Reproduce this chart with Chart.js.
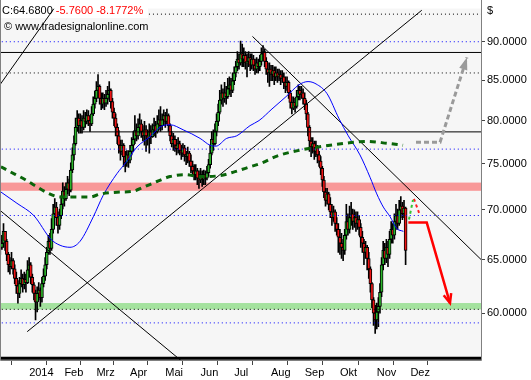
<!DOCTYPE html>
<html>
<head>
<meta charset="utf-8">
<script src="https://cdn.jsdelivr.net/npm/chart.js@4.4.1/dist/chart.umd.min.js"></script>
<style>
  html, body { margin: 0; padding: 0; background: #fff; }
</style>
</head>
<body>
<canvas id="chart" width="531" height="380"></canvas>
<script>
// Daily sessions, one entry per weekday: [high, low, close]; open = previous close
const firstOpen = 66.9;
const dec13 = [[67.0,65.5,66.2],[67.4,66.0,66.6],[68.6,66.2,67.8],[67.6,65.9,66.8],[67.0,64.9,65.5],[65.7,63.8,64.5],[65.2,63.6,64.3],[65.7,64.1,64.9],[65.1,63.6,64.1],[64.5,62.7,63.2],[63.8,61.8,62.5],[63.0,60.9,61.8],[63.3,61.4,62.7],[64.0,62.4,63.2],[63.6,61.9,62.6],[63.8,62.2,63.1],[63.6,61.9,62.8],[64.9,62.7,64.0]];
const jan = [[65.2,63.3,64.5],[64.7,62.7,63.3],[63.6,61.9,62.6],[62.8,61.2,61.8],[62.1,59.4,61.0],[62.4,60.1,61.8],[62.8,61.2,62.1],[62.3,60.6,61.4],[63.3,61.0,62.7],[64.1,62.4,63.4],[65.2,63.0,64.5],[66.2,64.1,65.7],[67.4,65.5,66.8],[67.6,65.5,66.1],[69.1,65.9,68.0],[70.6,67.6,69.6],[71.2,69.4,70.3],[70.8,68.4,69.2],[69.8,67.6,68.4],[70.1,68.0,69.4],[71.5,69.1,70.6],[72.9,70.1,72.0],[72.5,70.4,71.2]];
const feb = [[72.9,71.0,72.2],[73.6,71.7,72.9],[73.3,71.5,72.1],[75.1,71.9,74.3],[76.8,74.0,76.0],[78.2,75.4,77.3],[80.3,77.1,79.2],[81.2,78.7,80.3],[80.8,78.5,79.4],[80.8,78.5,80.0],[80.6,78.5,79.2],[81.2,78.9,80.3],[81.0,79.2,79.9],[81.3,79.6,80.6],[81.2,79.4,80.0],[80.6,78.7,79.6],[81.7,79.4,80.8],[82.9,80.6,82.0],[83.6,81.5,82.7],[84.8,82.3,83.7]];
const mar = [[85.7,82.9,84.2],[84.4,82.0,82.7],[83.4,81.3,82.0],[83.4,81.5,82.7],[83.2,81.3,82.1],[83.7,81.7,82.7],[84.2,82.0,83.2],[84.8,82.5,83.7],[83.9,81.5,82.3],[82.7,80.3,81.0],[81.5,79.4,80.3],[80.8,78.2,79.2],[79.6,77.3,78.2],[78.8,76.2,77.1],[77.7,75.4,76.4],[77.7,76.0,77.1],[77.3,74.7,75.8],[76.4,74.1,75.1],[76.5,74.7,76.0],[76.5,74.6,75.4],[77.1,75.1,76.4]];
const apr = [[78.0,76.0,77.1],[78.7,76.4,77.8],[80.6,77.3,78.8],[79.6,77.6,78.2],[80.2,77.8,79.2],[80.8,78.5,79.6],[80.1,78.0,78.7],[79.4,77.6,78.2],[79.9,77.1,78.9],[79.4,76.4,78.2],[78.9,77.1,77.9],[79.6,76.2,78.7],[79.4,77.3,78.1],[79.6,78.0,78.9],[80.3,78.2,79.4],[79.9,78.0,78.7],[80.6,78.5,79.6],[81.3,78.9,80.1],[81.7,78.7,79.4],[80.8,78.9,80.1],[81.3,79.4,80.6],[81.0,79.2,79.9]];
const may = [[81.4,79.6,80.6],[80.8,78.7,79.4],[79.6,77.6,78.2],[78.7,76.9,77.3],[78.5,76.5,77.8],[78.2,76.4,77.1],[77.8,76.0,76.7],[78.0,76.2,77.3],[77.6,76.0,76.5],[77.1,75.5,76.2],[77.3,75.8,76.8],[77.1,75.3,76.0],[76.4,74.9,75.8],[76.9,75.1,76.2],[76.4,74.7,75.3],[76.0,74.0,74.7],[75.3,73.6,74.2],[74.9,73.2,73.8],[74.9,73.2,74.2],[74.5,72.7,73.4],[74.2,72.3,73.2],[74.5,72.9,73.8]];
const jun = [[74.2,72.5,73.3],[74.3,72.7,73.8],[74.2,72.7,73.4],[74.7,73.2,74.0],[75.5,73.6,74.9],[77.1,74.5,76.2],[78.7,76.0,77.8],[78.9,76.5,77.3],[79.6,77.1,78.7],[80.8,78.2,79.9],[82.0,79.4,81.0],[83.7,80.8,82.5],[84.4,82.0,83.4],[83.9,81.7,82.7],[84.7,82.2,83.4],[84.2,82.0,82.9],[85.2,82.7,83.9],[85.4,83.2,84.4],[85.2,82.9,83.7],[85.9,83.4,84.9],[86.7,84.4,85.9]];
const jul = [[87.4,85.4,86.7],[88.7,86.2,87.7],[88.4,86.4,87.2],[90.1,86.9,88.4],[89.7,86.7,87.7],[89.2,86.7,88.2],[88.7,86.4,87.2],[88.4,85.4,87.4],[88.7,86.7,87.9],[88.4,86.2,86.9],[88.4,86.4,87.7],[88.2,86.2,86.9],[87.7,85.7,86.4],[87.9,85.9,87.2],[87.7,85.9,86.7],[88.2,86.2,87.4],[89.2,86.9,88.4],[89.5,87.7,88.7],[89.0,86.7,87.4],[87.9,85.7,86.4],[87.2,84.7,85.9],[87.2,84.2,86.4],[86.9,84.9,85.7]];
const aug = [[86.9,84.9,86.2],[86.7,84.4,85.4],[86.7,84.9,85.9],[86.4,84.7,85.4],[86.4,84.9,85.7],[86.2,84.4,85.2],[86.2,84.7,85.4],[85.9,83.9,84.7],[85.4,83.4,84.2],[85.4,83.7,84.7],[84.9,82.7,83.4],[83.7,81.5,82.2],[82.9,80.8,81.5],[82.9,81.3,82.2],[82.7,81.0,81.7],[83.7,81.5,82.9],[84.4,82.5,83.7],[84.2,82.5,83.2],[84.2,82.7,83.4],[83.9,82.0,82.7],[83.4,81.3,82.0]];
const sep = [[82.5,80.1,80.8],[81.0,78.2,79.2],[79.4,76.4,77.6],[78.0,75.8,76.9],[78.0,76.2,77.3],[77.6,75.5,76.4],[77.6,75.8,76.9],[77.1,75.1,76.0],[76.4,74.7,75.3],[75.8,73.8,74.5],[74.7,72.5,73.2],[73.6,71.3,71.9],[72.3,70.4,71.0],[72.3,70.6,71.7],[71.9,70.0,70.6],[71.3,69.2,69.8],[70.6,68.4,69.2],[70.4,68.8,69.8],[70.0,67.8,68.6],[69.2,67.4,68.0],[68.6,65.7,67.2],[68.0,65.5,66.6]];
const oct = [[67.6,65.1,66.2],[67.0,64.9,65.9],[68.0,65.5,67.4],[70.6,67.0,68.8],[69.6,67.4,68.0],[70.4,67.6,69.2],[70.8,68.4,69.6],[70.1,68.0,68.8],[70.0,68.2,69.2],[69.8,67.8,68.6],[69.8,68.0,69.0],[69.4,67.4,68.2],[68.6,66.2,67.2],[67.8,65.7,66.6],[67.0,64.5,65.7],[66.8,65.1,66.2],[66.4,64.0,65.1],[65.7,63.2,64.1],[64.3,61.9,62.7],[62.8,60.5,61.2],[61.4,58.9,60.0],[60.7,58.2,59.4],[60.9,58.6,60.1]];
const nov = [[61.4,58.8,60.6],[62.7,60.0,61.9],[65.2,61.5,64.5],[66.8,64.0,65.9],[66.6,64.5,65.1],[67.0,64.7,66.2],[66.8,64.3,65.5],[67.8,65.1,67.0],[68.8,66.6,68.0],[68.6,66.6,67.4],[69.6,67.0,68.8],[70.6,68.0,69.4],[70.1,68.0,68.6],[71.0,68.4,70.0],[71.4,69.2,70.4],[70.8,69.0,69.6],[71.0,69.2,70.2],[70.3,64.5,65.9]];

// x axis: session index of the first bar of each month
const monthTicks = [18, 40, 60, 81, 103, 125, 146, 169, 190, 212, 235, 256];
const monthLabels = ['2014', 'Feb', 'Mrz', 'Apr', 'Mai', 'Jun', 'Jul', 'Aug', 'Sep', 'Okt', 'Nov', 'Dez'];
const priceTicks = [60, 65, 70, 75, 80, 85, 90];

// indicators [session, price]
const smaLine = [[0.4,71.9],[10.4,70.7],[21.0,69.4],[31.6,67.0],[37.3,66.4],[43.5,66.2],[49.8,66.8],[58.1,69.3],[64.1,71.5],[72.8,73.9],[79.1,75.3],[85.3,76.9],[93.5,78.1],[100.3,79.3],[106.0,79.5],[114.2,78.9],[124.7,77.9],[131.0,77.1],[134.6,77.0],[141.3,77.9],[147.6,78.2],[155.9,79.4],[161.5,80.0],[169.6,81.4],[178.3,82.9],[186.5,84.4],[192.1,84.8],[197.1,84.5],[203.9,83.3],[211.5,80.2],[217.2,78.2],[224.5,76.0],[230.8,73.5],[235.0,71.7],[239.1,70.3],[243.3,69.3],[247.4,68.1],[251.6,67.8]];
const longAvg = [[0.4,74.66],[6.1,74.12],[15.4,73.25],[20.4,72.72],[29.8,71.78],[37.3,71.36],[45.4,71.36],[56.0,71.36],[62.2,71.67],[72.8,71.88],[82.8,71.98],[89.1,72.4],[97.8,73.04],[105.9,73.58],[115.3,73.79],[124.7,73.58],[137.1,73.68],[146.5,74.12],[155.9,74.66],[163.4,75.1],[172.7,75.87],[187.1,76.54],[201.4,76.99],[210.2,77.21],[228.9,77.55],[241.4,77.33],[251.4,77.1]];

// drawn analysis: horizontal levels and trend lines
const blueLevels = [90.0, 76.66, 69.42, 59.13];
const blackDotLevels = [85.9, 60.34];
const topDotLevel = 93.79, topDotFrom = 92.8;
const blackLevel = 88.57;
const midLevel = 78.66, midLevelFrom = 50.7;
const floorLevel = 56.08;
const resistanceBand = [72.03, 72.92];
const supportBand = [60.33, 60.91];
const trendLines = [
  [[-0.2, 84.4], [33.5, 94.57]],
  [[16.8, 58.36], [263.1, 94.34]],
  [[-0.2, 69.96], [113.4, 55.83]],
  [[157.4, 90.72], [300.1, 65.0]]
];
const bearPath = [[254.7, 68.69], [266.2, 68.69], [280.7, 60.91]];
const bullPath = [[259.5, 77.45], [274.5, 77.45], [291.3, 87.92]];
const upTick = [[255.1, 69.0], [257.6, 71.06]];
const downTick = [[258.2, 71.17], [262.0, 69.42]];

const FONT = "'Liberation Sans', Arial, sans-serif";
const GREEN = '#2bb52b', RED = '#ee1515';
const X_MIN = 0.44, X_MAX = 300.06;

const sessions = [].concat(dec13, jan, feb, mar, apr, may, jun, jul, aug, sep, oct, nov);
const bodies = [], wicks = [], bodyColors = [];
let prevClose = firstOpen;
sessions.forEach(([high, low, close], i) => {
  wicks.push({ x: i, y: [low, high] });
  bodies.push({ x: i, y: [prevClose, close] });
  bodyColors.push(close >= prevClose ? GREEN : RED);
  prevClose = close;
});

const pts = arr => arr.map(([x, y]) => ({ x, y }));
function lineSet(data, color, width, dash, order, extra) {
  return Object.assign({
    type: 'line', data: data, borderColor: color, borderWidth: width,
    borderDash: dash || [], pointRadius: 0, fill: false, tension: 0, order: order
  }, extra || {});
}
function level(value, color, width, dash, from) {
  return lineSet([{ x: from ?? X_MIN - 2, y: value }, { x: X_MAX + 2, y: value }], color, width, dash, 6);
}

const datasets = [
  { type: 'bar', data: wicks, backgroundColor: '#000', barThickness: 1, grouped: false, order: 11 },
  { type: 'bar', data: bodies, backgroundColor: bodyColors, borderColor: '#000', borderWidth: 1,
    borderSkipped: false, barThickness: 3, grouped: false, order: 10 },
  ...blueLevels.map(v => level(v, '#0000ff', 1, [1, 3])),
  ...blackDotLevels.map(v => level(v, '#000', 1, [1, 3])),
  level(topDotLevel, '#000', 1, [1, 3], topDotFrom),
  level(blackLevel, '#000', 1),
  level(midLevel, '#000', 1, [], midLevelFrom),
  level(floorLevel, '#000', 3),
  ...trendLines.map(t => lineSet(pts(t), '#000', 1, [], 5)),
  lineSet(pts(smaLine), '#0000ff', 1, [], 4, { cubicInterpolationMode: 'monotone' }),
  lineSet(pts(longAvg), '#0a650a', 3, [6, 5], 3, { cubicInterpolationMode: 'monotone' }),
  lineSet(pts(bullPath), '#9a9a9a', 3, [5, 3], 2),
  lineSet(pts(bearPath), '#ff0000', 2.5, [], 2),
  lineSet(pts(upTick), '#33c433', 2, [3, 3], 2),
  lineSet(pts(downTick), '#ff2020', 2, [3, 3], 2)
];

function head(ctx, from, to, len, spread, filled) {
  const a = Math.atan2(to.y - from.y, to.x - from.x);
  ctx.beginPath();
  ctx.moveTo(to.x - len * Math.cos(a - spread), to.y - len * Math.sin(a - spread));
  ctx.lineTo(to.x, to.y);
  ctx.lineTo(to.x - len * Math.cos(a + spread), to.y - len * Math.sin(a + spread));
  if (filled) { ctx.closePath(); ctx.fill(); } else { ctx.stroke(); }
}

const decor = {
  id: 'decor',
  beforeDraw(chart) {
    const { ctx, chartArea: a } = chart;
    ctx.save();
    ctx.fillStyle = '#f6f6f6';
    ctx.fillRect(a.left, a.top, a.right - a.left, a.bottom - a.top);
    ctx.restore();
  },
  beforeDatasetsDraw(chart) {
    const { ctx, chartArea: a, scales: { y } } = chart;
    ctx.save();
    const band = (b, col) => {
      const top = y.getPixelForValue(b[1]), bot = y.getPixelForValue(b[0]);
      ctx.fillStyle = col;
      ctx.fillRect(a.left, top, a.right - a.left, bot - top);
    };
    band(resistanceBand, 'rgb(248,152,152)');
    band(supportBand, 'rgb(164,226,158)');
    // header
    ctx.fillStyle = '#fff';
    ctx.fillRect(0, 0, 148, 18);
    ctx.font = '11px ' + FONT;
    ctx.textBaseline = 'alphabetic';
    ctx.fillStyle = '#000';
    ctx.fillText('C:64.6800', 2, 14);
    const w = ctx.measureText('C:64.6800 ').width;
    ctx.fillStyle = '#ff0000';
    ctx.fillText('-5.7600 -8.1772%', 2 + w, 14);
    ctx.fillStyle = '#000';
    ctx.fillText('\u00a9 www.tradesignalonline.com', 4, 30);
    ctx.restore();
  },
  afterDatasetsDraw(chart) {
    const { ctx, chartArea: a, scales: { x, y } } = chart;
    const px = p => ({ x: x.getPixelForValue(p[0]), y: y.getPixelForValue(p[1]) });
    ctx.save();
    ctx.strokeStyle = '#ff0000';
    ctx.lineWidth = 2.5;
    head(ctx, px(bearPath[1]), px(bearPath[2]), 10, 0.4, false);
    ctx.fillStyle = '#9a9a9a';
    head(ctx, px(bullPath[1]), px(bullPath[2]), 13, 0.33, true);
    // frame
    ctx.strokeStyle = '#808080';
    ctx.lineWidth = 1;
    ctx.beginPath();
    ctx.moveTo(0.5, 0);
    ctx.lineTo(0.5, a.bottom + 0.5);
    ctx.lineTo(a.right + 0.5, a.bottom + 0.5);
    ctx.lineTo(a.right + 0.5, 0);
    ctx.stroke();
    ctx.fillStyle = '#000';
    ctx.font = '11px ' + FONT;
    ctx.fillText('$', a.right + 6, 14);
    ctx.restore();
  }
};

new Chart(document.getElementById('chart'), {
  type: 'bar',
  data: { datasets: datasets },
  plugins: [decor],
  options: {
    responsive: false,
    devicePixelRatio: 1,
    animation: false,
    events: [],
    layout: { padding: { left: 1, top: 0, right: 0, bottom: 0 } },
    plugins: { legend: { display: false }, tooltip: { enabled: false } },
    scales: {
      x: {
        type: 'linear', min: X_MIN, max: X_MAX, bounds: 'data', offset: false,
        grid: { drawOnChartArea: false, drawTicks: true, tickLength: 5, color: '#444' },
        border: { display: false },
        ticks: {
          autoSkip: false, maxRotation: 0, minRotation: 0, align: 'start', padding: 1,
          color: '#000', font: { family: FONT, size: 11 },
          callback: v => monthLabels[monthTicks.indexOf(v)] ?? ''
        },
        afterBuildTicks: s => { s.ticks = monthTicks.map(v => ({ value: v })); },
        afterFit: s => { s.height = 20; }
      },
      y: {
        type: 'logarithmic', position: 'right', min: 55.94, max: 94.57, bounds: 'data',
        grid: { drawOnChartArea: false, drawTicks: true, tickLength: 4, color: '#444' },
        border: { display: false },
        ticks: {
          autoSkip: false, padding: 2, color: '#000', font: { family: FONT, size: 11 },
          callback: v => Number(v).toFixed(4)
        },
        afterBuildTicks: s => { s.ticks = priceTicks.map(v => ({ value: v })); },
        afterFit: s => { s.width = 50; }
      }
    }
  }
});
</script>
</body>
</html>
